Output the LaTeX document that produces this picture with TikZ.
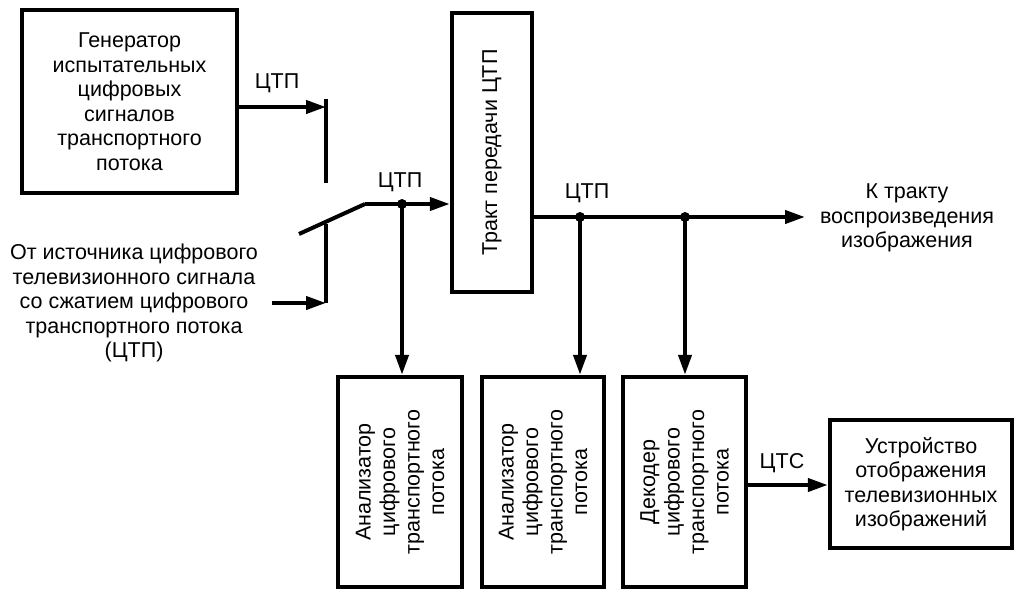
\documentclass[tikz,border=0pt]{standalone}
\usepackage{fontspec}
\setmainfont{Liberation Sans}
\usetikzlibrary{arrows.meta}
\begin{document}
\begin{tikzpicture}[x=1pt,y=-1pt,
  box/.style={draw, line width=4.4pt, inner sep=0pt},
  txt/.style={font=\fontsize{21.5}{24.5}\selectfont, align=center, inner sep=0pt},
  vtxt/.style={txt, rotate=90},
  wire/.style={line width=4pt},
  arr/.style={wire, -{Triangle[length=20pt,width=13pt]}},
  jdot/.style={circle, fill, inner sep=0pt, minimum size=10pt}]
\useasboundingbox (0,0) rectangle (1016,589);

% boxes
\node[box, minimum width=215pt, minimum height=183pt] (gen) at (129.5,101.5) {};
\node[txt] (gentxt) at (gen.center) {Генератор\\испытательных\\цифровых\\сигналов\\транспортного\\потока};

\node[box, minimum width=80pt, minimum height=279pt] (trans) at (492,152.5) {};
\node[vtxt] (transtxt) at (trans.center) {Тракт передачи ЦТП};

\node[box, minimum width=124pt, minimum height=210pt] (an1) at (400,482) {};
\node[vtxt] (an1txt) at (an1.center) {Анализатор\\цифрового\\транспортного\\потока};

\node[box, minimum width=122pt, minimum height=210pt] (an2) at (543,482) {};
\node[vtxt] (an2txt) at (an2.center) {Анализатор\\цифрового\\транспортного\\потока};

\node[box, minimum width=123pt, minimum height=210pt] (dec) at (684.5,482) {};
\node[vtxt] (dectxt) at (dec.center) {Декодер\\цифрового\\транспортного\\потока};

\node[box, minimum width=182pt, minimum height=128pt] (disp) at (921,484) {};
\node[txt] (disptxt) at (disp.center) {Устройство\\отображения\\телевизионных\\изображений};

% free texts
\node[txt] (src) at (134,303) {От источника цифрового\\телевизионного сигнала\\со сжатием цифрового\\транспортного потока\\(ЦТП)};
\node[txt] (play) at (907,218) {К тракту\\воспроизведения\\изображения};

% labels
\node[txt] (l1) at (277,83) {ЦТП};
\node[txt] (l2) at (400,182) {ЦТП};
\node[txt] (l3) at (587,193) {ЦТП};
\node[txt] (l4) at (782,463) {ЦТС};

% switch
\coordinate (g1) at (326,107);
\coordinate (c1top) at (326,99);
\coordinate (c1bot) at (326,183);
\draw[wire] (c1top) -- (c1bot);
\draw[arr] (gen.east |- g1) -- (g1);

\coordinate (c2top) at (326,224);
\coordinate (c2bot) at (326,303);
\coordinate (srcend) at (272,303);
\draw[wire] (c2top) -- (c2bot);
\draw[arr] (srcend) -- (c2bot);

\coordinate (bladeA) at (299,234);
\coordinate (bladeB) at (365,204);
\draw[wire] (bladeA) -- (bladeB);
\draw[arr] (bladeB) -- (trans.west |- bladeB);
\node[jdot] (d1) at (402,204) {};

% output line
\coordinate (out) at (805,217);
\draw[arr] (trans.east |- out) -- (out);
\node[jdot] (d2) at (580,217) {};
\node[jdot] (d3) at (685,217) {};

% taps
\draw[arr] (d1.center) -- (d1.center |- an1.north);
\draw[arr] (d2.center) -- (d2.center |- an2.north);
\draw[arr] (d3.center) -- (d3.center |- dec.north);

% decoder to display
\draw[arr] (dec.east |- 0,485) -- (disp.west |- 0,485);
\end{tikzpicture}
\end{document}
